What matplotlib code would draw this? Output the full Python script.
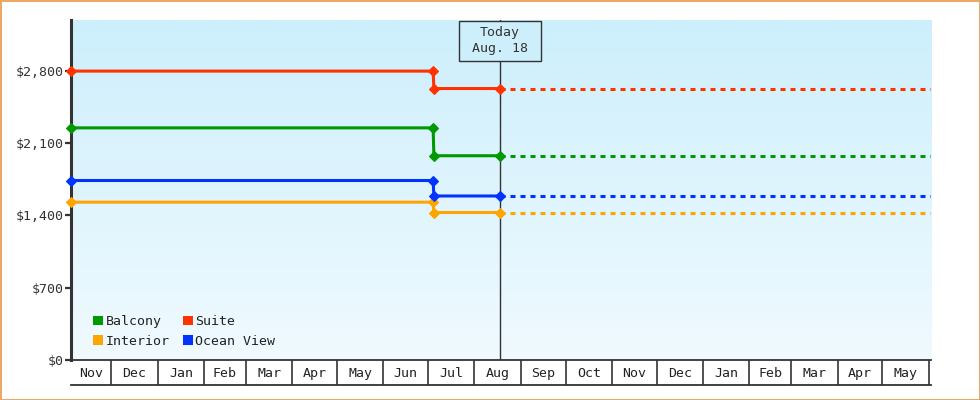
import numpy as np
import pandas as pd
import matplotlib
matplotlib.use('Agg')
import matplotlib.pyplot as plt
import matplotlib.dates as mdates
from matplotlib.colors import LinearSegmentedColormap
from matplotlib.patches import Patch

# datos
categorias = ['Balcony', 'Interior', 'Suite', 'Ocean View']
colores = ['#009900', '#ffa500', '#ff3300', '#0033ff']
precio_antes = [2249, 1529, 2799, 1739]
precio_ahora = [1979, 1429, 2630, 1589]

fechas = ['2020-11-04 00:00', '2021-07-04 08:00', '2021-07-04 20:00', '2021-08-18 00:00']
hoy = '2021-08-18 00:00'
fin = '2022-06-02 12:00'
texto_hoy = 'Today\n Aug. 18 '
ticks_y = [0, 700, 1400, 2100, 2800]

plt.rcParams['font.family'] = 'DejaVu Sans Mono'
plt.rcParams['lines.scale_dashes'] = False

W, H = 980, 400
fig = plt.figure(figsize=(W / 100, H / 100), dpi=100)
rect = [71 / W, 40 / H, 860 / W, 340 / H]

# fondo con degradado
fondo = fig.add_axes(rect, zorder=0)
cmap = LinearSegmentedColormap.from_list('cielo', ['#f0faff', '#cdeffc'])
fondo.imshow(np.linspace(0, 1, 256).reshape(-1, 1), cmap=cmap, aspect='auto',
             origin='lower', extent=[0, 1, 0, 1])
fondo.axis('off')

ax = fig.add_axes(rect, zorder=1)
ax.set_facecolor('none')

x = pd.to_datetime(fechas, format='%Y-%m-%d %H:%M')
t_hoy = pd.Timestamp(hoy)
t_fin = pd.Timestamp(fin)

for nombre, c, a, b in zip(categorias, colores, precio_antes, precio_ahora):
    ax.plot(x, [a, a, b, b], color=c, lw=2.2, marker='D', ms=5.2, mew=0.8,
            zorder=4, solid_joinstyle='miter', clip_on=False)
    ax.plot([t_hoy, t_fin], [b, b], color=c, lw=2.2, dashes=(3.6, 3.6), zorder=3)

ax.set_xlim(x[0], t_fin)
ax.set_ylim(0, 3294)

# linea y caja de hoy
ax.axvline(t_hoy, color='#333333', lw=1, zorder=2)
ax.annotate(texto_hoy, xy=(mdates.date2num(t_hoy), 1), xycoords=('data', 'axes fraction'),
            xytext=(0, -4.2), textcoords='offset points', ha='center', va='top',
            fontsize=9.5, color='#333333', linespacing=1.35, zorder=5,
            bbox=dict(boxstyle='square,pad=0.4', fc='#cdeffc', ec='#333333', lw=1))

# eje y
ax.set_yticks(ticks_y)
ax.set_yticklabels(['${:,.0f}'.format(v) for v in ticks_y])
ax.tick_params(axis='y', length=4, width=1.6, color='#333333', pad=1.5,
               labelsize=9.5, labelcolor='#333333')

# eje x: celdas por mes
inicios = pd.date_range(x[0], t_fin, freq='MS')
bordes = [x[0]] + list(inicios)
centros = [bordes[i] + (bordes[i + 1] - bordes[i]) / 2 for i in range(len(bordes) - 1)]
ax.set_xticks(centros)
ax.set_xticklabels([c.strftime('%b') for c in centros])
ax.set_xticks(list(inicios), minor=True)
ax.tick_params(axis='x', which='major', length=0, pad=5, labelsize=9.5, labelcolor='#222222')
ax.tick_params(axis='x', which='minor', length=18, width=1.2, color='#333333')
ax.plot([0, 1], [-25 / 340, -25 / 340], transform=ax.transAxes, color='#333333',
        lw=1.3, clip_on=False)

for lado in ['top', 'right']:
    ax.spines[lado].set_visible(False)
ax.spines['left'].set_linewidth(2.2)
ax.spines['left'].set_color('#333333')
ax.spines['bottom'].set_linewidth(1.3)
ax.spines['bottom'].set_color('#333333')

# leyenda
manijas = [Patch(facecolor=c, edgecolor='none') for c in colores]
ax.legend(manijas, categorias, ncol=2, loc='lower left', bbox_to_anchor=(0.0256, 0.036),
          frameon=False, fontsize=9.5, handlelength=0.75, handleheight=0.75,
          handletextpad=0.2, columnspacing=1.0, labelspacing=0.5, borderpad=0,
          borderaxespad=0, labelcolor='#222222')

fig.patch.set_edgecolor('#e9a964')
fig.patch.set_linewidth(2)
fig.savefig('out.png', dpi=100, edgecolor=fig.get_edgecolor())
